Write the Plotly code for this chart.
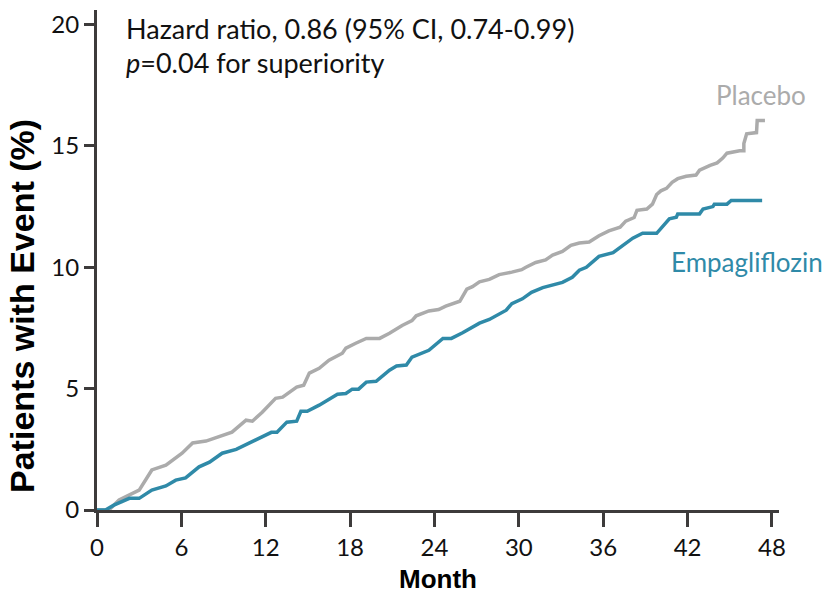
import plotly.graph_objects as go

# Placebo (months, % with event)
placebo_month = [0, 0.85, 1.57, 3.0, 3.9, 4.9, 6.05, 6.8, 7.75, 8.9, 9.6, 10.6, 11.05, 11.75, 12.7, 13.2,
                 14.2, 14.7, 15.1, 15.8, 16.5, 17.45, 17.7, 18.4, 19.15, 20.1, 20.8, 21.7, 22.4, 22.7,
                 23.6, 24.3, 24.8, 25.8, 26.3, 26.7, 27.2, 27.9, 28.6, 29.5, 30.2, 30.5, 31.2, 31.9,
                 32.4, 33.1, 33.7, 34.3, 35.0, 35.7, 36.4, 37.2, 37.6, 38.2, 38.4, 39.1, 39.5,
                 39.8, 40.1, 40.5, 40.9, 41.3, 41.9, 42.6, 42.85, 43.6, 44.1, 44.5, 44.8, 45.7, 46.0,
                 46.0, 46.2, 46.9, 46.95, 47.5]
placebo_pct = [0, 0, 0.41, 0.82, 1.65, 1.85, 2.34, 2.76, 2.84, 3.09, 3.21, 3.70, 3.66, 4.03, 4.6, 4.65,
               5.06, 5.14, 5.64, 5.84, 6.17, 6.46, 6.67, 6.87, 7.07, 7.07, 7.28, 7.6, 7.8, 8.0,
               8.2, 8.26, 8.4, 8.6, 9.1, 9.2, 9.4, 9.5, 9.7, 9.8, 9.9, 10.0, 10.2, 10.3,
               10.5, 10.65, 10.9, 11.0, 11.04, 11.3, 11.5, 11.65, 11.9, 12.05, 12.35, 12.4, 12.6,
               13.0, 13.15, 13.25, 13.5, 13.65, 13.75, 13.8, 14.0, 14.2, 14.3, 14.5, 14.7, 14.8, 14.8,
               15.1, 15.5, 15.55, 16.05, 16.05]

# Empagliflozin (months, % with event)
empa_month = [0, 0.6, 1.2, 2.3, 3.0, 3.9, 4.9, 5.6, 6.3, 7.26, 8.0, 8.9, 9.9, 10.6, 11.75, 12.4, 12.8,
              13.5, 14.2, 14.5, 14.95, 15.8, 17.1, 17.7, 18.15, 18.6, 19.15, 19.85, 20.8, 21.3, 22.0,
              22.4, 23.6, 24.6, 25.2, 26.0, 27.2, 27.9, 29.1, 29.5, 30.25, 30.9, 31.7, 32.4, 33.1,
              33.8, 34.3, 34.8, 35.7, 36.7, 37.2, 38.1, 38.8, 39.8, 40.7, 41.2, 41.3, 42.85, 43.1,
              43.8, 43.9, 44.8, 45.1, 47.3]
empa_pct = [0, 0, 0.2, 0.48, 0.48, 0.82, 0.99, 1.23, 1.32, 1.78, 1.97, 2.34, 2.5, 2.7, 3.0, 3.2, 3.2,
            3.62, 3.66, 4.07, 4.07, 4.32, 4.77, 4.8, 4.98, 4.98, 5.27, 5.3, 5.76, 5.93, 5.97,
            6.3, 6.58, 7.07, 7.07, 7.3, 7.7, 7.85, 8.23, 8.5, 8.7, 8.97, 9.16, 9.26, 9.38,
            9.59, 9.88, 10.0, 10.45, 10.6, 10.8, 11.2, 11.4, 11.4, 12.0, 12.06, 12.2, 12.2, 12.4,
            12.5, 12.6, 12.6, 12.75, 12.75]

x_ticks = [0, 6, 12, 18, 24, 30, 36, 42, 48]
y_ticks = [0, 5, 10, 15, 20]

gray = "#ababab"
teal = "#2f8aa8"
axis_col = "#3d3b3b"
tick_font = dict(family="Lato", size=24, color="#111111")
note_font = dict(family="Lato", size=27, color="#111111")

fig = go.Figure()
fig.add_trace(go.Scatter(x=placebo_month, y=placebo_pct, mode="lines",
                         line=dict(color=gray, width=3.5), name="Placebo"))
fig.add_trace(go.Scatter(x=empa_month, y=empa_pct, mode="lines",
                         line=dict(color=teal, width=3.5), name="Empagliflozin"))

fig.update_layout(
    width=828, height=597,
    margin=dict(l=97, r=49, t=10, b=87),
    paper_bgcolor="white", plot_bgcolor="white",
    showlegend=False,
    xaxis=dict(range=[0, 48.5], tickvals=x_ticks, ticktext=[str(v) for v in x_ticks],
               showgrid=False, zeroline=False, showline=True, linecolor=axis_col, linewidth=3,
               ticks="outside", ticklen=14, tickwidth=3, tickcolor=axis_col, tickfont=tick_font,
               automargin=False),
    yaxis=dict(range=[0, 20.6], tickvals=y_ticks, ticktext=[str(v) for v in y_ticks],
               showgrid=False, zeroline=False, showline=True, linecolor=axis_col, linewidth=3,
               automargin=False,
               ticks="outside", ticklen=10, tickwidth=3, tickcolor=axis_col, tickfont=tick_font),
)

fig.add_annotation(x=0.5, y=-0.138, xref="paper", yref="paper",
                   xanchor="center", yanchor="middle",
                   text="<b>Month</b>", showarrow=False,
                   font=dict(family="Liberation Sans", size=26, color="black"))
fig.add_annotation(x=-0.11, y=0.408, xref="paper", yref="paper", textangle=-90,
                   xanchor="center", yanchor="middle",
                   text="<b>Patients with Event (%)</b>", showarrow=False,
                   font=dict(family="Liberation Sans", size=34, color="black"))
fig.add_annotation(x=0.04, y=19.85, xref="paper", yref="y", xanchor="left", yanchor="middle",
                   text="Hazard ratio, 0.86 (95% CI, 0.74-0.99)", showarrow=False,
                   font=note_font)
fig.add_annotation(x=0.04, y=18.42, xref="paper", yref="y", xanchor="left", yanchor="middle",
                   text="<i>p</i>=0.04 for superiority", showarrow=False,
                   font=note_font)
fig.add_annotation(x=1.0425, y=17.1, xref="paper", yref="y", xanchor="right", yanchor="middle",
                   text="Placebo", showarrow=False,
                   font=dict(family="Lato", size=26, color=gray))
fig.add_annotation(x=1.068, y=10.2, xref="paper", yref="y", xanchor="right", yanchor="middle",
                   text="Empagliflozin", showarrow=False,
                   font=dict(family="Lato", size=26, color=teal))

# remove the browser's default 8px body margin so the figure fills the window exactly
fig.write_html("out.html", config={"displayModeBar": False},
               post_script="document.body.style.margin='0';")
